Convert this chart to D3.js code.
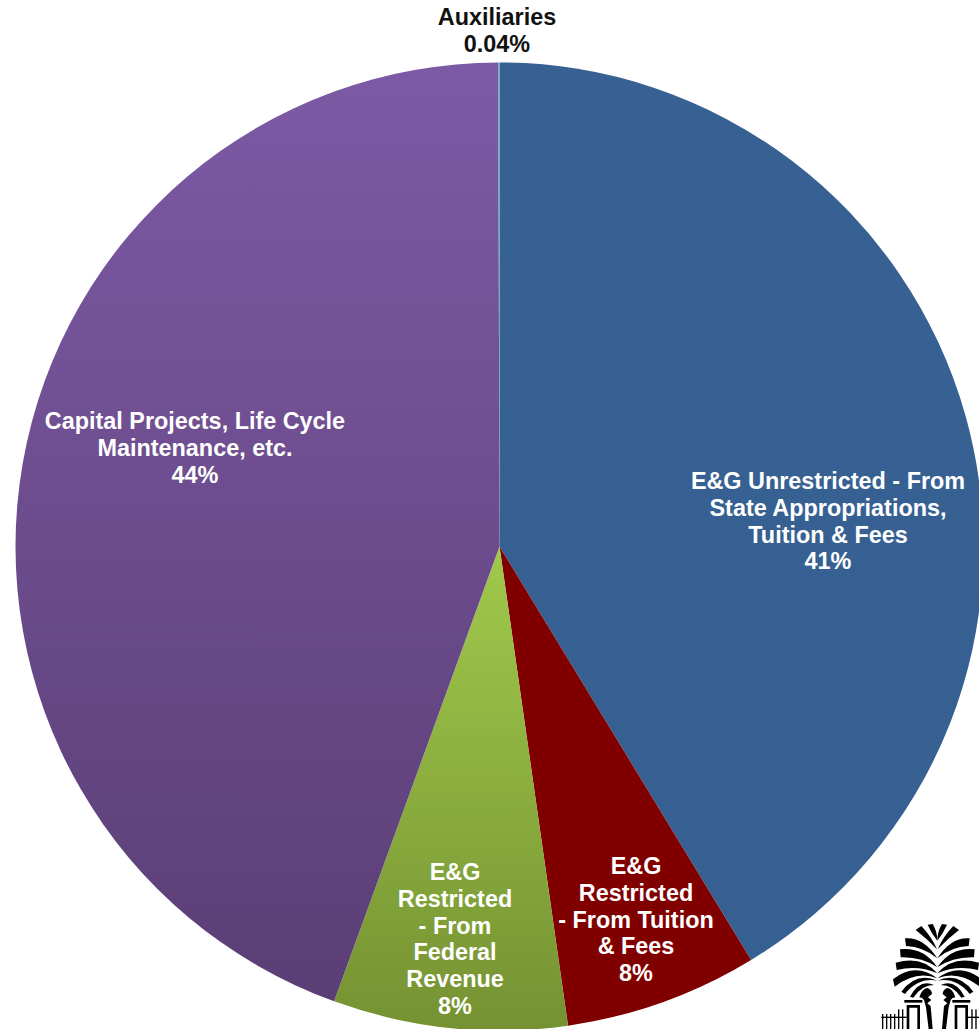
<!DOCTYPE html>
<html>
<head>
<meta charset="utf-8">
<script src="https://cdn.jsdelivr.net/npm/d3@7"></script>
<style>
  html, body { margin: 0; padding: 0; background: #fff; overflow: hidden; }
  text { font-family: "Liberation Sans", Arial, sans-serif; font-weight: 700; }
</style>
</head>
<body>
<div id="chart"></div>
<script>
// Slice names, shares (printed labels are rounded)
const categories = ["E&G Unrestricted", "E&G Restricted Tuition", "E&G Restricted Federal", "Capital Projects", "Auxiliaries"];
const shares = [41.3, 6.44, 7.81, 44.41, 0.04];
const labelLines = [
    ["E&G Unrestricted - From", "State Appropriations,", "Tuition & Fees", "41%"],
    ["E&G", "Restricted", "- From Tuition", "& Fees", "8%"],
    ["E&G", "Restricted", "- From", "Federal", "Revenue", "8%"],
    ["Capital Projects, Life Cycle", "Maintenance, etc.", "44%"],
    ["Auxiliaries", "0.04%"]
];
const topColors = ["#376193", "#800000", "#a0c94b", "#7d5aa5", "#4bacc6"];
const bottomColors = ["#366092", "#800000", "#759232", "#5b3e75", "#4bacc6"];

// label anchor: centre x and first baseline, white inside the pie, black above it
const labelX = [828, 636, 455, 195, 497];
const labelY = [489, 874, 880, 429, 25];
const labelFill = ["#fff", "#fff", "#fff", "#fff", "#111"];

const width = 979, height = 1029;
const cx = 499.5, cy = 546.5, radius = 484;
const lineStep = 26.8;

const svg = d3.select("#chart").append("svg")
    .attr("width", width)
    .attr("height", height)
    .style("display", "block");

// 1. One vertical gradient per slice, spanning the slice's own extent
const pie = d3.pie().sort(null).value(d => d)
const arcs = pie(shares);
const arc = d3.arc().innerRadius(0).outerRadius(radius);
const defs = svg.append("defs");

arcs.forEach((a, i) => {
    const angles = d3.range(a.startAngle, a.endAngle, 0.01).concat(a.endAngle);
    const ys = angles.map(t => -radius * Math.cos(t)).concat(0);
    const grad = defs.append("linearGradient")
        .attr("id", `slice-${i}`)
        .attr("gradientUnits", "userSpaceOnUse")
        .attr("x1", 0).attr("x2", 0)
        .attr("y1", d3.min(ys)).attr("y2", d3.max(ys));
    grad.append("stop").attr("offset", "0%").attr("stop-color", topColors[i]);
    grad.append("stop").attr("offset", "100%").attr("stop-color", bottomColors[i]);
});

// 2. Slices
const g = svg.append("g").attr("transform", `translate(${cx},${cy})`);

g.selectAll("path")
    .data(arcs)
    .enter()
    .append("path")
    .attr("d", arc)
    .attr("fill", (d, i) => `url(#slice-${i})`);

// 3. Labels
labelLines.forEach((lines, i) => {
    svg.append("text")
        .attr("text-anchor", "middle")
        .attr("fill", labelFill[i])
        .style("font-size", "23.4px")
        .selectAll("tspan")
        .data(lines)
        .enter()
        .append("tspan")
        .attr("x", labelX[i])
        .attr("y", (d, j) => labelY[i] + j * lineStep)
        .text(d => d);
});

// 4. University palm and gate logo, bottom right (drawn in 3x crop units)
const logo = svg.append("g").attr("transform", "translate(860,890) scale(0.3333)");
const leaves = [
    "M203,104 L218,102 Q232,125 232,152 Q214,130 203,104Z",
    "M167,120 L184,108 Q215,140 231,178 Q200,145 167,120Z",
    "M135,145 Q190,140 232,205 Q190,170 138,168Z",
    "M120,178 Q190,170 232,232 Q185,200 122,202Z",
    "M107,218 Q185,195 232,250 Q175,225 110,240Z",
    "M99,268 Q165,215 232,265 Q170,240 104,290Z",
    "M124,305 Q170,245 232,272 Q175,262 135,312Z",
    "M150,320 Q180,265 222,285 Q185,285 160,323Z"
];
[1, -1].forEach(side => {
    const half = logo.append("g")
        .attr("transform", side === 1 ? null : "translate(464,0) scale(-1,1)")
        .attr("fill", "#000");
    half.selectAll("path.leaf")
        .data(leaves)
        .enter()
        .append("path")
        .attr("class", "leaf")
        .attr("d", d => d);
    // trunk
    half.append("path")
        .attr("d", "M178,322 Q185,296 203,294 Q216,300 216,312 L204,322 L214,330 L202,340 L212,348 L218,417 L206,417 L198,352 L192,330 Q188,322 178,322Z");
    // gate post
    half.append("rect").attr("x", 133).attr("y", 330).attr("width", 54).attr("height", 8);
    half.append("path")
        .attr("d", "M140,345 L180,345 L180,417 L172,417 L172,353 L148,353 L148,417 L140,417Z");
    // fence
    half.append("rect").attr("x", 64).attr("y", 380).attr("width", 76).attr("height", 4);
    half.selectAll("rect.bar")
        .data([66, 78, 90, 102, 114, 126])
        .enter()
        .append("rect")
        .attr("class", "bar")
        .attr("x", d => d)
        .attr("y", (d, i) => i > 3 ? 358 : 372)
        .attr("width", 4)
        .attr("height", 60);
});
</script>
</body>
</html>
